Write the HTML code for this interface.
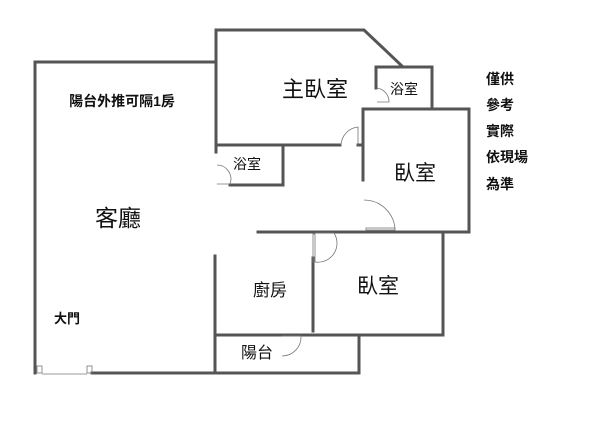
<!DOCTYPE html>
<html><head><meta charset="utf-8"><style>
html,body{margin:0;padding:0;background:#fff;width:600px;height:433px;overflow:hidden}
svg text{font-family:"Liberation Sans","Noto Sans CJK TC",sans-serif;fill:#111}
.b{font-weight:bold}
</style></head><body>
<svg width="600" height="433" viewBox="0 0 600 433" xmlns="http://www.w3.org/2000/svg">
<g stroke="#555" stroke-width="3" fill="none" stroke-linecap="square">
<polyline points="215,62 35,62 35,373"/>
<line x1="92" y1="373" x2="359" y2="373"/>
<polyline points="216,145 216,30 364,30 402,66"/>
<line x1="216" y1="145" x2="340" y2="145"/>
<line x1="358" y1="145" x2="362" y2="145"/>
<polyline points="376,88 376,67 432,67 432,109"/>
<polyline points="363,109 469,109 469,232 258,232"/>
<line x1="363" y1="109" x2="363" y2="180"/>
<polyline points="216,145 216,152"/>
<polyline points="283,145 283,185 230,185"/>
<polyline points="443,232 443,335 215,335"/>
<line x1="313" y1="258" x2="313" y2="331"/>
<line x1="215" y1="256" x2="215" y2="373"/>
<line x1="359" y1="335" x2="359" y2="373"/>
</g>
<g stroke="#777" stroke-width="0.8" fill="none">
<path d="M341,145 A19,19 0 0 1 358,127 L358,145"/>
<path d="M377,88 A14,14 0 0 1 389,102 L377,102"/>
<path d="M217,165 A14,14 0 0 1 230,184 L217,184"/>
<path d="M364,200 A31,31 0 0 1 395,231"/>
<rect x="366" y="228" width="29" height="2"/>
<path d="M315,233 L334,233 A19,19 0 0 1 315,262"/>
<rect x="313" y="234" width="2" height="28"/>
<path d="M282,336 L301,336 A19,19 0 0 1 282,356"/>
<rect x="37" y="366" width="5" height="7"/><rect x="87" y="366" width="5" height="7"/>
<line x1="42" y1="374" x2="87" y2="374"/>
</g>
<text x="315" y="97" font-size="22" text-anchor="middle">主臥室</text>
<text x="404" y="94" font-size="14" text-anchor="middle">浴室</text>
<text x="247" y="169" font-size="14" text-anchor="middle">浴室</text>
<text x="415" y="180" font-size="21" text-anchor="middle">臥室</text>
<text x="118" y="226" font-size="23" text-anchor="middle">客廳</text>
<text x="122" y="106" font-size="14" class="b" text-anchor="middle">陽台外推可隔1房</text>
<text x="378" y="293" font-size="21" text-anchor="middle">臥室</text>
<text x="270" y="296" font-size="17" text-anchor="middle">廚房</text>
<text x="67" y="323" font-size="13" class="b" text-anchor="middle">大門</text>
<text x="257" y="358" font-size="16" text-anchor="middle">陽台</text>
<g class="b" font-size="14">
<text x="486" y="84">僅供</text>
<text x="486" y="110">參考</text>
<text x="486" y="136">實際</text>
<text x="486" y="162">依現場</text>
<text x="486" y="189">為準</text>
</g>
</svg>
</body></html>
